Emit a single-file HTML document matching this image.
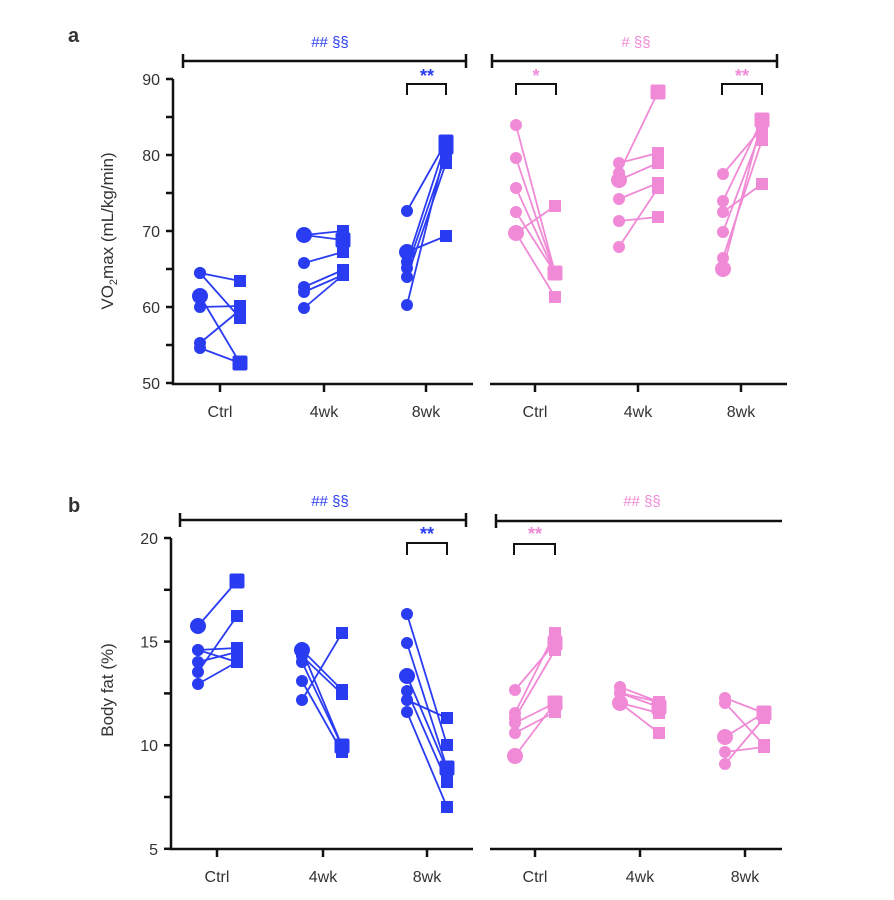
<!DOCTYPE html>
<html><head><meta charset="utf-8"><style>
html,body{margin:0;padding:0;background:#fff}
svg{display:block}
text{font-family:"Liberation Sans",sans-serif}
</style></head><body>
<svg id="s" width="894" height="900" xmlns="http://www.w3.org/2000/svg">
<g fill="#333" font-size="17">
<text x="68" y="42" font-weight="bold" font-size="20">a</text>
<text x="68" y="512" font-weight="bold" font-size="20">b</text>
<text transform="translate(113,231) rotate(-90)" text-anchor="middle">VO<tspan font-size="11" dy="4">2</tspan><tspan dy="-4">max (mL/kg/min)</tspan></text>
<text transform="translate(113,690) rotate(-90)" text-anchor="middle">Body fat (%)</text>
</g>
<g stroke="#111" stroke-width="2.5" fill="none">
<path d="M173,79 V384 H473"/><path d="M490,384 H787"/>
<path d="M171,538 V849 H473"/><path d="M490,849 H782"/>
<path d="M183,61 H466 M183,54 V68 M466,54 V68"/>
<path d="M492,61 H777 M492,54 V68 M777,54 V68"/>
<path d="M180,520 H466 M180,513 V527 M466,513 V527"/>
<path d="M496,521 H782 M496,514 V528"/>
</g>
<g stroke="#111" stroke-width="2" fill="none">
<path d="M407,95 V84 H446 V95"/><path d="M516,95 V84 H556 V95"/><path d="M722,95 V84 H762 V95"/>
<path d="M407,555 V543 H447 V555"/><path d="M514,555 V544 H555 V555"/>
</g>
<g id="ticks" stroke="#111" stroke-width="2.5"></g>
<g id="pts"></g>
<g font-size="16" fill="#333" id="lbl"></g>
<g font-size="15" text-anchor="middle">
<text x="330" y="47" fill="#2a3cf2">## §§</text>
<text x="636" y="47" fill="#f08ad6"># §§</text>
<text x="330" y="506" fill="#2a3cf2">## §§</text>
<text x="642" y="506" fill="#f08ad6">## §§</text>
<text x="427" y="82" fill="#2a3cf2" font-weight="bold" font-size="18">**</text>
<text x="536" y="82" fill="#f08ad6" font-weight="bold" font-size="18">*</text>
<text x="742" y="82" fill="#f08ad6" font-weight="bold" font-size="18">**</text>
<text x="427" y="540" fill="#2a3cf2" font-weight="bold" font-size="18">**</text>
<text x="535" y="540" fill="#f08ad6" font-weight="bold" font-size="18">**</text>
</g>
</svg>
<script>
var NS="http://www.w3.org/2000/svg";
function el(p,t,a,txt){var e=document.createElementNS(NS,t);for(var k in a)e.setAttribute(k,a[k]);if(txt)e.textContent=txt;p.appendChild(e);return e;}
var T=document.getElementById('ticks'),L=document.getElementById('lbl'),P=document.getElementById('pts');
[90,85,80,75,70,65,60,55,50].forEach(function(v,i){var y=79+i*38;el(T,'line',{x1:166,x2:173,y1:y,y2:y});if(v%10==0)el(L,'text',{x:160,y:y+6,'text-anchor':'end'},String(v));});
[20,17.5,15,12.5,10,7.5,5].forEach(function(v,i){var y=538+i*51.8;el(T,'line',{x1:164,x2:171,y1:y,y2:y});if(v%5==0)el(L,'text',{x:158,y:y+6,'text-anchor':'end'},String(v));});
function xt(xs,y){var n=['Ctrl','4wk','8wk'];xs.forEach(function(x,i){el(T,'line',{x1:x,x2:x,y1:y,y2:y+8});el(L,'text',{x:x,y:y+33,'text-anchor':'middle'},n[i]);});}
xt([220,324,426],384);xt([535,638,741],384);xt([217,323,427],849);xt([535,640,745],849);
function grp(col,cx,sx,pairs,bigC,bigS){
 pairs.forEach(function(p){el(P,'line',{x1:cx,y1:p[0],x2:sx,y2:p[1],stroke:col,'stroke-width':1.8});});
 pairs.forEach(function(p){el(P,'circle',{cx:cx,cy:p[0],r:6,fill:col});el(P,'rect',{x:sx-6,y:p[1]-6,width:12,height:12,fill:col});});
 (bigC||[]).forEach(function(y){el(P,'circle',{cx:cx,cy:y,r:8,fill:col});});
 (bigS||[]).forEach(function(y){el(P,'rect',{x:sx-7.5,y:y-7.5,width:15,height:15,rx:2,fill:col});});
}
var B="#2a3cf2",K="#f08ad6";
grp(B,200,240,[[273,281],[273,318],[296,363],[307,306],[343,310],[348,363]],[296],[363]);
grp(B,304,343,[[235,231],[235,240],[263,252],[287,270],[292,275],[308,275]],[235],[240]);
grp(B,407,446,[[211,142],[252,236],[262,142],[268,155],[277,163],[305,147]],[252],[142,147]);
grp(K,516,555,[[125,273],[158,273],[188,273],[212,273],[233,206],[233,297]],[233],[273]);
grp(K,619,658,[[173,92],[163,153],[180,163],[199,183],[221,217],[247,188]],[180],[92]);
grp(K,723,762,[[174,128],[201,120],[212,184],[232,128],[258,140],[269,120]],[269],[120]);
grp(B,198,237,[[626,581],[650,648],[662,652],[672,616],[684,662],[650,662]],[626],[581]);
grp(B,302,342,[[700,633],[650,690],[656,694],[662,746],[681,752],[650,746]],[650],[746]);
grp(B,407,447,[[614,745],[643,768],[676,770],[691,782],[700,718],[712,807]],[676],[768]);
grp(K,515,555,[[690,643],[713,633],[718,650],[723,703],[733,712],[756,703]],[756],[703,643]);
grp(K,620,659,[[687,702],[693,707],[703,713],[703,733],[693,702]],[703],[707]);
grp(K,725,764,[[698,713],[703,745],[737,713],[752,747],[764,718]],[737],[713]);
</script>
</body></html>
